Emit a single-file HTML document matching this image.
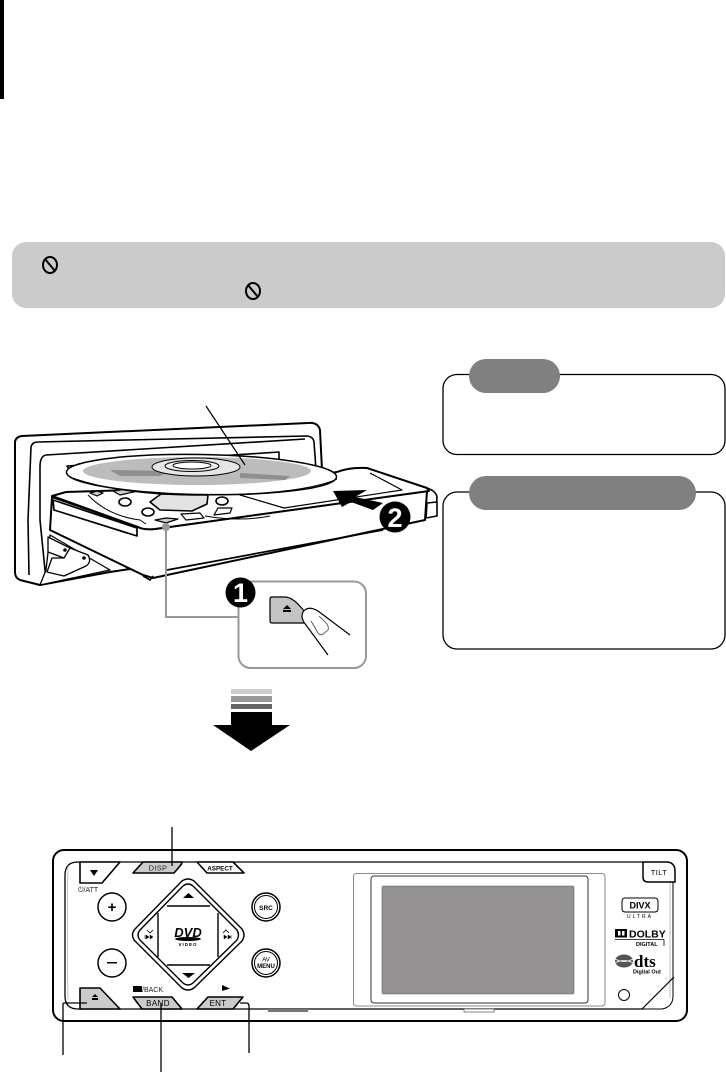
<!DOCTYPE html>
<html><head><meta charset="utf-8"><style>
html,body{margin:0;padding:0;background:#fff}
svg{display:block}
text{font-family:"Liberation Sans",sans-serif}
text.serif{font-family:"Liberation Serif",serif}
</style></head><body>
<svg width="726" height="1072" viewBox="0 0 726 1072" xmlns="http://www.w3.org/2000/svg">
<rect width="726" height="1072" fill="#fff"/>
<rect x="0" y="0" width="4" height="99" fill="#000"/>
<rect x="12" y="242" width="713" height="66" rx="14" fill="#cbcbcb"/>
<g fill="none" stroke="#000">
<ellipse cx="50" cy="265" rx="7" ry="8" stroke-width="2"/><line x1="45" y1="259" x2="55" y2="271" stroke-width="2"/>
<ellipse cx="253" cy="291" rx="7" ry="8" stroke-width="2"/><line x1="248" y1="285" x2="258" y2="297" stroke-width="2"/>
<rect x="443" y="374.500" width="282" height="80" rx="14" stroke-width="1.3"/>
<rect x="443" y="492" width="282" height="157" rx="14" stroke-width="1.3"/>
</g>
<rect x="469" y="359" width="91" height="34" rx="17" fill="#808080"/>
<rect x="469" y="476" width="227" height="34" rx="17" fill="#808080"/>

<!-- CD player illustration -->
<g fill="#fff" stroke="#000" stroke-width="1.6" stroke-linejoin="round">
<path d="M15 443Q15 437 22 436L308 423Q318 422 320 430L322 470L322 540L110 572L40 585L20 580Q15 578 15 572Z" stroke-width="2"/>
<path d="M31 447Q32 442 38 442L306 436Q313 436 314 442L316 470" fill="none"/>
<path d="M31 447L28 520L29 575" fill="none"/>
<path d="M46 455L305 439" fill="none"/>
<path d="M46 455Q40 456 40 467L40 520L46 580" fill="none"/>
<path d="M67 466L279 452L279 466L73 475Z" fill="#fff"/>
<!-- tray lower area -->
<path d="M50 535L110 570L40 585L46 570Z" stroke-width="1.3"/>
<path d="M48 537L70 548Q70 556 64 558L48 552Z" stroke-width="1.3"/>
<path d="M70 548L88 555Q92 562 86 566L64 576L47 572L52 558L64 558Z" stroke-width="1.3"/>
<circle cx="65" cy="550" r="1"/><circle cx="84" cy="558" r="1"/>
<!-- faceplate front -->
<path d="M52 497L138 527Q145 530 155 529L427 491L425 520L153 578L143 575L50 530Z" stroke-width="2"/>
<path d="M167 570L383 530" fill="none" stroke-width="1.7"/>
<path d="M53 500L137 528L137 536L54 510Z" stroke-width="1.7"/>
<path d="M143 576L150 580L153 576" fill="none"/>
<!-- faceplate top -->
<path d="M52 496L66 492L230 487L337 472Q350 467 367 468L427 488L429 491L155 529Q143 530 138 527Z" stroke-width="2"/>
<path d="M427 488Q436 491 437 497L436 512" fill="none"/>
<path d="M370 473L402 490L284 508L240 495L337 479" fill="none" stroke-width="1.2"/>
<path d="M427 503L437 502L437 516L426 518Z"/>
<path d="M90 493L97 491L103 493L97 496Z" fill="#ccc" stroke-width="1.2"/><path d="M113 491L128 489L138 491L120 495Z" fill="#ccc" stroke-width="1.2"/>
<path d="M88 495Q108 516 140 520L146 524" fill="none" stroke-width="1"/>
<path d="M150 502L161 494L208 495L207 504L192 511L160 510Z" fill="#e3e3e3"/>
<ellipse cx="125" cy="502" rx="6" ry="4"/><ellipse cx="148" cy="512" rx="6" ry="4"/><ellipse cx="222" cy="501" rx="6" ry="4"/>
<path d="M181 514L200 513L204 518L186 520Z" stroke-width="1.2"/><path d="M214 515L218 508L232 508L230 513Z" stroke-width="1.2"/>
<path d="M155 520L166 518L178 519L166 523Z" fill="#ccc" stroke-width="1.2"/>
<path d="M205 516Q240 522 270 516" fill="none" stroke-width="1"/>
<!-- disc -->
<ellipse cx="201.500" cy="474.500" rx="135" ry="20" transform="rotate(1 201 474)" stroke-width="1.5"/>
<path d="M72 478Q130 497 210 495Q300 494 335 480" fill="none" stroke-width="1"/>
<ellipse cx="197" cy="471" rx="114" ry="14" fill="#bcbcbc" stroke="none"/>
<path d="M110 470L170 471L160 476L120 476Z" fill="#8f8f8f" stroke="none"/>
<path d="M240 473L290 476L285 480L240 478Z" fill="#8f8f8f" stroke="none"/>
<ellipse cx="196" cy="467" rx="44" ry="9" fill="#e6e6e6" stroke-width="1"/>
<ellipse cx="192" cy="466" rx="27" ry="5.500" fill="#eee" stroke-width="1"/>
<ellipse cx="192" cy="465.500" rx="19" ry="3.500" fill="#fff" stroke-width="1"/>
</g>
<line x1="206" y1="406" x2="245" y2="465" stroke="#000" stroke-width="1.2"/>
<path d="M333 491L367 490L355 497L383 503L373 510L351 502L342 507Z" fill="#000"/>
<circle cx="395" cy="517" r="15.500" fill="#000"/>
<text x="395" y="527" font-size="27" font-weight="bold" text-anchor="middle" fill="#fff">2</text>
<!-- inset -->
<path d="M166 527V617H238" fill="none" stroke="#999" stroke-width="2"/>
<circle cx="166" cy="527" r="4" fill="#999"/>
<rect x="238.500" y="581.500" width="127.500" height="86.500" rx="12" fill="#fff" stroke="#999" stroke-width="2"/>
<circle cx="240.500" cy="592.500" r="15" fill="#000"/>
<text x="240.500" y="602" font-size="27" font-weight="bold" text-anchor="middle" fill="#fff">1</text>
<path d="M270 599Q270 597 272 597L286 597Q292 598 298 604L306 613L306 623L272 623Q270 623 270 621Z" fill="#c4c4c4" stroke="#000" stroke-width="1.2"/>
<path d="M283 609L287 605L291 609ZM283 610H291V612H283Z" fill="#000"/>
<path d="M350 635L318 611Q308 605 303 612Q300 618 306 625L328 655L350 650Z" fill="#fff" stroke="none"/>
<path d="M350 635L318 611Q308 605 303 612Q300 618 306 625L328 655" fill="none" stroke="#000" stroke-width="1.2"/>
<path d="M311 621L318 633Q320 636 323 634L328 630Q329 627 327 624L319 616" fill="none" stroke="#444" stroke-width="0.8"/>

<!-- big arrow -->
<rect x="231" y="689" width="41" height="5" fill="#ccc"/>
<rect x="231" y="696" width="41" height="6" fill="#999"/>
<rect x="231" y="704" width="41" height="5" fill="#666"/>
<path d="M231 712H272V725H290L251 751L213 725H231Z" fill="#000"/>

<!-- front panel -->
<rect x="53" y="850" width="634" height="171" rx="11" fill="#fff" stroke="#000" stroke-width="2"/>
<g fill="none" stroke="#000" stroke-width="1.2">
<path d="M643 862H78Q65 862 65 875V996Q65 1009 78 1009H643" stroke-width="1.3"/>
<path d="M68 864Q67 930 68 1000" stroke="#999" stroke-width="0.6"/>
<path d="M673 882V996Q673 1007 662 1009H640" stroke-width="1"/>
<path d="M670 883V998" stroke="#999" stroke-width="0.6"/>
<path d="M642 1009L674 977"/>
</g>
<path d="M643 862H666Q675 862 675 871V882H648Q643 882 643 877Z" fill="#fff" stroke="#000" stroke-width="1.5"/>
<text x="659" y="875" font-size="7.500" text-anchor="middle" letter-spacing=".4">TILT</text>
<rect x="268" y="1009" width="40" height="3" fill="#777"/>
<rect x="464" y="1009" width="30" height="3" fill="#fff" stroke="#555" stroke-width="0.7"/>

<g stroke="#000" stroke-width="1.6" stroke-linejoin="round">
<path d="M80 862H120L102 883H80Z" fill="#fff"/>
<path d="M80 1009V988H100L120 1009Z" fill="#cbcbcb"/>
<path d="M143 862H182Q182 864 180 866L174 873H133Z" fill="#cbcbcb"/>
<path d="M197 862H233L244 873H207Z" fill="#fff"/>
<path d="M133 997H172L182 1009H142Z" fill="#cbcbcb"/>
<path d="M208 997H243L233 1009H197Z" fill="#cbcbcb"/>
</g>
<path d="M90 870H98L94 876Z" fill="#000"/>
<path d="M92 997L95 994L98 997ZM92 998H98V1000H92Z" fill="#000"/>

<g fill="#fff" stroke="#000" stroke-width="1.5">
<circle cx="112" cy="907" r="14"/>
<circle cx="112" cy="963" r="14"/>
<circle cx="266" cy="907" r="14"/><circle cx="266" cy="907" r="11.500" stroke-width="1"/>
<circle cx="266" cy="963" r="14"/><circle cx="266" cy="963" r="11.500" stroke-width="1"/>
</g>
<g text-anchor="middle" fill="#000">
<text x="158" y="870.500" font-size="7.500" letter-spacing=".3" fill="#222">DISP</text>
<text x="220" y="870.500" font-size="6.300" font-weight="bold">ASPECT</text>
<text x="158" y="1006" font-size="8" letter-spacing=".4">BAND</text>
<text x="218" y="1006" font-size="8" letter-spacing=".3">ENT</text>
<text x="266" y="910" font-size="6.500" font-weight="bold">SRC</text>
<text x="266" y="961.500" font-size="6">AV</text>
<text x="266" y="968" font-size="6" font-weight="bold">MENU</text>
</g>
<text x="78" y="892" font-size="7" fill="#222">⏻/ATT</text>
<rect x="133" y="986" width="9" height="6" fill="#000"/>
<text x="142" y="992" font-size="7" fill="#222">/BACK</text>
<path d="M222 985L230 988.500L222 991Z" fill="#000"/>
<text x="112" y="912" font-size="15" font-weight="bold" text-anchor="middle">+</text>
<rect x="107" y="962" width="10" height="1.500" fill="#000"/>

<g fill="#fff" stroke="#000" stroke-width="1.4" stroke-linejoin="round">
<path d="M182 881Q188 877 194 881L242 929Q246 935 242 941L194 988Q188 992 182 988L135 941Q130 935 135 929Z"/>
<path d="M183 886Q188 882 193 886L237 930Q240 935 237 940L193 983Q188 987 183 983L140 940Q136 935 140 930Z"/>
<path d="M167 906H210M167 965H210M158 913V957M218 913V957" fill="none"/>
</g>
<path d="M183 898H194L188.500 893ZM182 973H195L188.500 978Z" fill="#000"/>
<text x="188" y="937" font-size="13" font-weight="bold" font-style="italic" text-anchor="middle">DVD</text>
<ellipse cx="188" cy="939" rx="13" ry="2" fill="#000"/>
<text x="188" y="946" font-size="4.500" font-weight="bold" text-anchor="middle" letter-spacing="1">VIDEO</text>
<path d="M147 930L150 933L153 930" fill="none" stroke="#000" stroke-width="0.8"/>
<path d="M145 935V939M149 937L146 935V939ZM153 937L150 935V939Z" fill="#000" stroke="#000" stroke-width="0.5"/>
<path d="M223 933L226 930L229 933" fill="none" stroke="#000" stroke-width="0.8"/>
<path d="M231 935V939M224 935L227 937L224 939ZM228 935L231 937L228 939Z" fill="#000" stroke="#000" stroke-width="0.5"/>

<!-- screen -->
<rect x="353.500" y="873.500" width="251.500" height="132.500" rx="3" fill="#fff" stroke="#666" stroke-width="0.8"/>
<rect x="371" y="876" width="217" height="127" rx="3" fill="#fff" stroke="#333" stroke-width="1"/>
<rect x="382" y="886" width="192" height="108" rx="1" fill="#949292" stroke="#555" stroke-width="0.5"/>

<!-- logos -->
<rect x="622" y="898" width="36" height="14" rx="3" fill="#fff" stroke="#000" stroke-width="1"/>
<text x="640" y="908.500" font-size="9" font-weight="bold" text-anchor="middle">DIVX</text>
<text x="640" y="918" font-size="5" text-anchor="middle" letter-spacing="2">ULTRA</text>
<rect x="615" y="929" width="12" height="8.500" fill="#000"/>
<rect x="618" y="931" width="2.500" height="4.500" fill="#fff"/><rect x="622" y="931" width="2.500" height="4.500" fill="#fff"/>
<text x="629" y="937.500" font-size="10.500" font-weight="bold">DOLBY</text>
<line x1="615" y1="939.500" x2="664" y2="939.500" stroke="#000" stroke-width="0.8"/>
<line x1="664" y1="939.500" x2="664" y2="946" stroke="#000" stroke-width="0.8"/>
<text x="636" y="946" font-size="5.500" font-weight="bold">DIGITAL</text>
<ellipse cx="624" cy="961" rx="9" ry="6.500" fill="#555"/>
<path d="M615 959Q624 964 633 959M615 963Q624 958 633 963" stroke="#fff" stroke-width="0.8" fill="none"/>
<text class="serif" x="634" y="967" font-size="17" font-weight="bold">dts</text>
<text x="633" y="973.500" font-size="5.500" font-weight="bold">Digital Out</text>
<circle cx="624" cy="995" r="5.500" fill="#fff" stroke="#000" stroke-width="1"/>

<!-- leaders -->
<g fill="none" stroke="#000" stroke-width="1.300">
<path d="M172 827V866"/>
<path d="M161 1003V1072"/>
<path d="M63 1055V1004Q63 1003 65 1003H87"/>
<path d="M249 1053V1006Q249 1003 246 1003H240"/>
</g>
</svg>
</body></html>
